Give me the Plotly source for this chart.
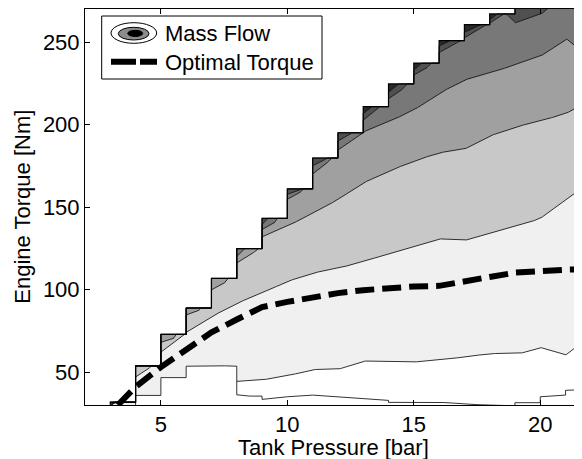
import numpy as np
import plotly.graph_objects as go

# ---------------- data ----------------
# upper torque limit of each pressure column [k, k+1) in bar
col_left = list(range(3, 22))
torque_max = [31.7, 53.7, 72.8, 88.8, 106.7, 124.8, 143.1, 161.0, 179.7, 195.0,
              210.8, 224.6, 237.2, 250.8, 260.5, 267.0, 285.0, 285.0, 285.0]

# mass-flow contour boundaries (pressure [bar], torque [Nm]); repeated x = step
lvl0_x = [8, 8, 8.5, 9, 9, 10, 11, 12.9, 14, 14, 15.2, 16.2, 17.5, 19, 19, 20, 20, 21, 21, 22]
lvl0_y = [44.3, 36.2, 35.4, 35.4, 33.4, 35.0, 36.0, 33.8, 32.8, 31.6, 31.6, 31.5, 30.2,
          29.5, 31.4, 31.4, 35.0, 36.0, 38.9, 39.5]

lvl1_x = [3, 4, 4, 5, 5, 6, 6, 7, 8, 8, 9, 10, 11, 12, 12.5, 13, 14, 15, 16, 17, 18,
          19.2, 20, 21, 21.65, 22]
lvl1_y = [29, 29, 35.8, 35.8, 46.6, 46.6, 53.5, 54.0, 53.5, 44.3, 45.2, 47.6, 51.5, 51.6,
          54.0, 56.7, 56.1, 56.0, 57.5, 59.0, 61.2, 61.2, 64.9, 60.2, 68.3, 72.0]

lvl2_x = [3, 4, 4.5, 5, 6, 7, 8, 9, 10, 11, 12, 13, 14, 15, 16, 17, 18, 19.2, 20, 20.5,
          21.2, 22]
lvl2_y = [29, 47, 51.5, 62, 74, 83.5, 91.7, 97.8, 104.9, 110, 112.8, 117, 121.6, 126,
          130.7, 129.7, 133.8, 138.9, 143, 149, 156.2, 166]

lvl3_x = [3, 4, 5, 5.5, 6, 6.5, 7, 7.5, 8, 8.5, 8.8, 9, 10, 11, 12, 13, 14, 15, 16, 17,
          18, 19.2, 20, 21, 22]
lvl3_y = [29, 56, 68, 70.2, 84.6, 87.2, 99.8, 103.5, 116.1, 120.5, 124.0, 131.9, 138.4,
          146, 154.5, 164.6, 171.7, 177.8, 182.9, 185, 193.1, 199.2, 202.2, 206.5, 215]

lvl4_x = [3, 3.4, 4, 5, 6, 7, 8, 9, 9.5, 10, 10.5, 11, 11.5, 12, 13, 14, 15, 16, 17, 18,
          19.2, 20, 20.5, 21.03, 21.65, 22]
lvl4_y = [30.5, 32.5, 57, 75, 90, 108, 120.1, 136.4, 140.5, 154.7, 158.5, 170, 175.5,
          184.5, 195.5, 201.6, 208.7, 218.9, 227, 231.1, 237.2, 241.3, 246.3, 252, 244.3, 240]

lvl5_x = [3, 4, 5, 6, 7, 8, 9, 10, 10.5, 11, 11.5, 12, 12.5, 13, 14, 14.5, 15, 15.5, 16,
          16.5, 17, 17.5, 18, 18.6, 19, 20, 20.3, 21, 22]
lvl5_y = [36, 60, 78, 94, 112, 130, 139.4, 157.7, 160.2, 175, 178.5, 190, 194, 202.6,
          215.6, 220.5, 230, 234, 243.6, 247.5, 252.5, 257.5, 261.5, 268, 261.6, 266.6,
          270, 280, 285]

lvl6_x = [3, 4, 5, 6, 7, 8, 9, 10, 11, 12, 13, 14, 15, 16, 17, 18, 18.5, 19, 22]
lvl6_y = [41, 65, 83, 99, 117, 135, 150, 167, 184, 197, 206.7, 219.6, 233, 247.6, 255.9,
          263.5, 270, 276, 290]

# optimal torque line
opt_pressure = [3.3, 4, 5, 6, 7, 8, 9, 10, 11, 12, 13, 14, 15, 16, 17, 18, 19, 20, 21, 22]
opt_torque = [30, 41, 53, 64, 74, 81.8, 89.3, 92.5, 95.5, 97.8, 99.6, 101, 101.8, 102.2,
              104.5, 107.6, 110.2, 111.5, 112, 112.3]

# ---------------- styles ----------------
band_colors = ['#f0f0f0', '#c8c8c8', '#a0a0a0', '#787878', '#505050', '#282828']
FONT = 'Liberation Sans, Arial, sans-serif'

# fine pressure grid, one block per column so that steps stay vertical
eps = 1e-6
n = 60
xs = np.concatenate([np.linspace(k + (0 if k == col_left[0] else eps), k + 1 - eps, n)
                     for k in col_left])
T = np.array(torque_max)[np.floor(xs).astype(int) - col_left[0]]


def clipped(cx, cy):
    return np.minimum(np.interp(xs, cx, cy), T)


levels = [(lvl1_x, lvl1_y), (lvl2_x, lvl2_y), (lvl3_x, lvl3_y),
          (lvl4_x, lvl4_y), (lvl5_x, lvl5_y), (lvl6_x, lvl6_y)]

fig = go.Figure()

b = clipped(*levels[0])
fig.add_trace(go.Scatter(x=xs, y=b, mode='lines', line=dict(color='black', width=0.8),
                         hoverinfo='skip'))
for i in range(1, len(levels)):
    yi = clipped(*levels[i])
    fig.add_trace(go.Scatter(x=xs, y=yi, mode='lines', fill='tonexty',
                             fillcolor=band_colors[i - 1],
                             line=dict(color='black', width=0.8), hoverinfo='skip'))
fig.add_trace(go.Scatter(x=xs, y=T, mode='lines', fill='tonexty',
                         fillcolor=band_colors[-1], line=dict(color='black', width=0),
                         hoverinfo='skip'))
fig.add_trace(go.Scatter(x=np.concatenate([[col_left[0]], xs]),
                         y=np.concatenate([[lvl1_y[0]], T]), mode='lines',
                         line=dict(color='black', width=1.2), hoverinfo='skip'))
fig.add_trace(go.Scatter(x=lvl0_x, y=lvl0_y, mode='lines',
                         line=dict(color='black', width=0.8), hoverinfo='skip'))
fig.add_trace(go.Scatter(x=opt_pressure, y=opt_torque, mode='lines',
                         line=dict(color='black', width=6, dash='19px,8px'),
                         name='Optimal Torque'))

# ---------------- layout ----------------
# the page body adds an 8 px offset; plot area wanted at page px 85..582 x 9..405
OFF = 8
L, R, TOP, BOT = 85, 582, 9, 405
W, H = 582 - OFF, 459 - OFF


def px2paper(px, py):
    return (px - L) / (R - L), (BOT - py) / (BOT - TOP)


shapes = []
x0, y1 = px2paper(101.7, 16)
x1, y0 = px2paper(322, 79)
shapes.append(dict(type='rect', xref='paper', yref='paper', x0=x0, x1=x1, y0=y0, y1=y1,
                   line=dict(color='black', width=1), fillcolor='white', layer='above'))
for (ax0, ay0, ax1, ay1, fc) in [(111, 22.7, 156.7, 43.3, 'white'),
                                 (118.3, 27.3, 149, 40, '#8c8c8c'),
                                 (127.7, 30.3, 142.7, 36.5, 'black')]:
    ex0, ey1 = px2paper(ax0, ay0)
    ex1, ey0 = px2paper(ax1, ay1)
    shapes.append(dict(type='circle', xref='paper', yref='paper', x0=ex0, x1=ex1,
                       y0=ey0, y1=ey1, line=dict(color='black', width=1), fillcolor=fc,
                       layer='above'))
lx0, ly = px2paper(111, 61.7)
lx1, _ = px2paper(157, 61.7)
shapes.append(dict(type='line', xref='paper', yref='paper', x0=lx0, x1=lx1, y0=ly, y1=ly,
                   line=dict(color='black', width=6, dash='25px,4px'), layer='above'))

annotations = []
tx, ty1 = px2paper(163, 33.5)
_, ty2 = px2paper(163, 62)
annotations.append(dict(xref='paper', yref='paper', x=tx, y=ty1, text='Mass Flow',
                        showarrow=False, xanchor='left', yanchor='middle',
                        font=dict(size=22, family=FONT, color='black')))
annotations.append(dict(xref='paper', yref='paper', x=tx, y=ty2, text='Optimal Torque',
                        showarrow=False, xanchor='left', yanchor='middle',
                        font=dict(size=22, family=FONT, color='black')))
xt, yt = px2paper(333.5, 447.5)
annotations.append(dict(xref='paper', yref='paper', x=xt, y=yt, text='Tank Pressure [bar]',
                        showarrow=False, xanchor='center', yanchor='middle',
                        font=dict(size=22, family=FONT, color='black')))
xt, yt = px2paper(21.7, 207)
annotations.append(dict(xref='paper', yref='paper', x=xt, y=yt, text='Engine Torque [Nm]',
                        showarrow=False, xanchor='center', yanchor='middle', textangle=-90,
                        font=dict(size=22, family=FONT, color='black')))

axis_common = dict(showgrid=False, zeroline=False, ticks='inside', ticklen=5, tickwidth=1,
                   tickcolor='black', showline=True, linecolor='black', linewidth=1,
                   tickfont=dict(size=22, family=FONT, color='black'))
fig.update_layout(
    width=W, height=H,
    margin=dict(l=L - OFF, r=W - (R - OFF), t=TOP - OFF, b=H - (BOT - OFF)),
    paper_bgcolor='white', plot_bgcolor='white',
    showlegend=False,
    font=dict(family=FONT, size=22, color='black'),
    xaxis=dict(range=[2, 21.65], tickvals=[5, 10, 15, 20], mirror='allticks', **axis_common),
    yaxis=dict(range=[30, 270], tickvals=[50, 100, 150, 200, 250], mirror=False,
               **axis_common),
    shapes=shapes, annotations=annotations,
)

fig.write_html('out.html')
